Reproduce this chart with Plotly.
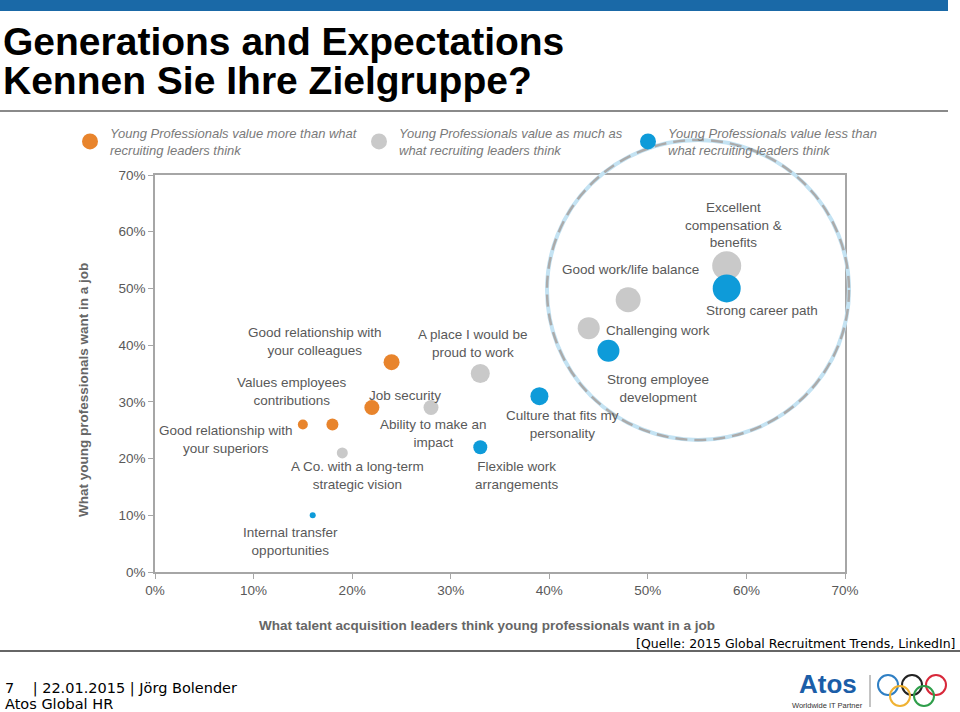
import plotly.graph_objects as go

# ---------------- data ----------------
labels = [
    "Internal transfer<br>opportunities",
    "Good relationship with<br>your superiors",
    "Values employees<br>contributions",
    "A Co. with a long-term<br>strategic vision",
    "Job security",
    "Good relationship with<br>your colleagues",
    "Ability to make an<br>impact",
    "A place I would be<br>proud to work",
    "Flexible work<br>arrangements",
    "Culture that fits my<br>personality",
    "Challenging work",
    "Strong employee<br>development",
    "Good work/life balance",
    "Excellent<br>compensation &<br>benefits",
    "Strong career path",
]
leaders_think = [0.16, 0.15, 0.18, 0.19, 0.22, 0.24, 0.28, 0.33, 0.33, 0.39, 0.44, 0.46, 0.48, 0.58, 0.58]
professionals_want = [0.10, 0.26, 0.26, 0.21, 0.29, 0.37, 0.29, 0.35, 0.22, 0.31, 0.43, 0.39, 0.48, 0.54, 0.50]
bubble_size = [6, 10, 12, 11, 15, 16, 15, 19, 14, 18, 22, 22, 25, 29, 28]
group = ["less", "more", "more", "same", "more", "more", "same", "same", "less", "less",
         "same", "less", "same", "same", "less"]
# label offsets relative to each point (pixels; +x right, +y down)
label_dx = [-22, -77, -40, 15, 33, -77, 2, -7, 37, 23, 69, 50, 2, 7, 35]
label_dy = [26, 15, -33, 23, -12, -21, 26, -30, 28, 28, 2, 38, -30, -41, 22]

groups = ["more", "same", "less"]
group_names = [
    "Young Professionals value more than what<br>recruiting leaders think",
    "Young Professionals value as much as<br>what recruiting leaders think",
    "Young Professionals value less than<br>what recruiting leaders think",
]
group_colors = ["#E8842C", "#C9C9C9", "#0E9BD9"]
legend_widths = [244, 224, 224]

x_ticks = [0, 0.1, 0.2, 0.3, 0.4, 0.5, 0.6, 0.7]
x_tick_text = ["0%", "10%", "20%", "30%", "40%", "50%", "60%", "70%"]

# ---------------- layout helpers ----------------
W, H = 960, 712
L, R, T, B = 155, 845, 175, 572


def px(x):
    return (x - L) / (R - L)


def py(y):
    return (B - y) / (B - T)


fig = go.Figure()

# data traces
for g, name, col in zip(groups, group_names, group_colors):
    idx = [i for i, gg in enumerate(group) if gg == g]
    fig.add_trace(go.Scatter(
        x=[leaders_think[i] for i in idx],
        y=[professionals_want[i] for i in idx],
        mode="markers",
        marker=dict(size=[bubble_size[i] for i in idx], color=col, line=dict(width=0), opacity=1),
        showlegend=False,
        hoverinfo="skip",
        cliponaxis=False,
    ))

# legend entries
for name, col, lw in zip(group_names, group_colors, legend_widths):
    fig.add_trace(go.Scatter(
        x=[None], y=[None], mode="markers", name=name,
        marker=dict(size=16, color=col),
        legendwidth=lw,
    ))

annotations = []
label_font = dict(family="Liberation Sans, Arial, sans-serif", size=13.5, color="#595959")
for i, lab in enumerate(labels):
    annotations.append(dict(
        x=leaders_think[i], y=professionals_want[i], xref="x", yref="y",
        text=lab, showarrow=False, xshift=label_dx[i], yshift=-label_dy[i],
        font=label_font, align="center", xanchor="center", yanchor="middle",
    ))

# titles
title_font = dict(family="Liberation Sans, Arial, sans-serif", size=39, color="#000000")
annotations.append(dict(x=px(1), y=py(42), xref="paper", yref="paper", text="<b>Generations and Expectations</b>",
                        showarrow=False, xanchor="left", yanchor="middle", font=title_font))
annotations.append(dict(x=px(1), y=py(80), xref="paper", yref="paper", text="<b>Kennen Sie Ihre Zielgruppe?</b>",
                        showarrow=False, xanchor="left", yanchor="middle", font=title_font))

# axis titles
axis_title_font = dict(family="Liberation Sans, Arial, sans-serif", size=13.5, color="#666666")
annotations.append(dict(x=px(487), y=py(625), xref="paper", yref="paper",
                        text="<b>What talent acquisition leaders think young professionals want in a job</b>",
                        showarrow=False, xanchor="center", yanchor="middle", font=axis_title_font))
annotations.append(dict(x=px(83), y=py(390), xref="paper", yref="paper",
                        text="<b>What young professionals want in a job</b>", textangle=-90,
                        showarrow=False, xanchor="center", yanchor="middle", font=axis_title_font))

# footer
foot_font = dict(family="DejaVu Sans, Verdana, sans-serif", size=14.5, color="#000000")
annotations.append(dict(x=px(958), y=py(643), xref="paper", yref="paper",
                        text="[Quelle: 2015 Global Recruitment Trends, LinkedIn]",
                        showarrow=False, xanchor="right", yanchor="middle",
                        font=dict(family="DejaVu Sans, Verdana, sans-serif", size=12.5, color="#000000")))
annotations.append(dict(x=px(3), y=py(688), xref="paper", yref="paper",
                        text="7    | 22.01.2015 | Jörg Bolender",
                        showarrow=False, xanchor="left", yanchor="middle", font=foot_font))
annotations.append(dict(x=px(3), y=py(704), xref="paper", yref="paper",
                        text="Atos Global HR",
                        showarrow=False, xanchor="left", yanchor="middle", font=foot_font))
# Atos logo text
annotations.append(dict(x=px(828), y=py(684), xref="paper", yref="paper", text="<b>Atos</b>",
                        showarrow=False, xanchor="center", yanchor="middle",
                        font=dict(family="Liberation Sans, Arial, sans-serif", size=26, color="#1B5EA8")))
annotations.append(dict(x=px(827), y=py(705), xref="paper", yref="paper", text="Worldwide IT Partner",
                        showarrow=False, xanchor="center", yanchor="middle",
                        font=dict(family="Liberation Sans, sans-serif", size=7.5, color="#333333")))

shapes = []
# top blue bar and rule lines
shapes.append(dict(type="rect", xref="paper", yref="paper", x0=px(0), x1=px(948), y0=py(0), y1=py(11),
                   fillcolor="#1A69A7", line=dict(width=0)))
shapes.append(dict(type="line", xref="paper", yref="paper", x0=px(0), x1=px(948), y0=py(111), y1=py(111),
                   line=dict(color="#8A8A8A", width=2)))
shapes.append(dict(type="line", xref="paper", yref="paper", x0=px(0), x1=px(960), y0=py(651), y1=py(651),
                   line=dict(color="#333333", width=1.5)))
# highlight circle
shapes.append(dict(type="circle", xref="paper", yref="paper", x0=px(547), x1=px(849), y0=py(440), y1=py(140),
                   line=dict(color="#C4E3F3", width=4)))
shapes.append(dict(type="circle", xref="paper", yref="paper", x0=px(547), x1=px(849), y0=py(440), y1=py(140),
                   line=dict(color="#ABABAB", width=2.5, dash="12px,7px")))
# logo separator + rings
shapes.append(dict(type="line", xref="paper", yref="paper", x0=px(870), x1=px(870), y0=py(675), y1=py(707),
                   line=dict(color="#888888", width=1)))
ring_cx = [888, 912, 936, 900, 924]
ring_cy = [685, 685, 685, 696, 696]
ring_col = ["#2F7FC4", "#222222", "#D8283A", "#F0B232", "#2E9E4A"]
for cx, cy, col in zip(ring_cx, ring_cy, ring_col):
    shapes.append(dict(type="circle", xref="paper", yref="paper", x0=px(cx - 10), x1=px(cx + 10),
                       y0=py(cy + 10), y1=py(cy - 10), line=dict(color=col, width=2)))

tick_font = dict(family="Liberation Sans, Arial, sans-serif", size=13.5, color="#595959")
fig.update_layout(
    width=W, height=H,
    margin=dict(l=L, r=W - R, t=T, b=H - B, pad=0),
    paper_bgcolor="white", plot_bgcolor="white",
    xaxis=dict(range=[0, 0.7], tickvals=x_ticks, ticktext=x_tick_text, showgrid=False, zeroline=False,
               showline=True, linecolor="#A6A6A6", linewidth=1.5, mirror=True,
               ticks="outside", ticklen=5, tickcolor="#A6A6A6", tickfont=tick_font),
    yaxis=dict(range=[0, 0.7], tickvals=x_ticks, ticktext=x_tick_text, showgrid=False, zeroline=False,
               showline=True, linecolor="#A6A6A6", linewidth=1.5, mirror=True,
               ticks="outside", ticklen=5, tickcolor="#A6A6A6", tickfont=tick_font),
    legend=dict(orientation="h", x=px(70), y=py(118), xanchor="left", yanchor="top",
                font=dict(family="Liberation Sans, Arial, sans-serif",
                          size=13, color="#7A7A7A", style="italic"),
                bgcolor="rgba(0,0,0,0)", itemsizing="trace", traceorder="normal", entrywidthmode="pixels"),
    annotations=annotations,
    shapes=shapes,
)

fig.write_html("out.html", config={"displayModeBar": False},
               post_script="document.body.style.margin='0';document.body.style.padding='0';")
